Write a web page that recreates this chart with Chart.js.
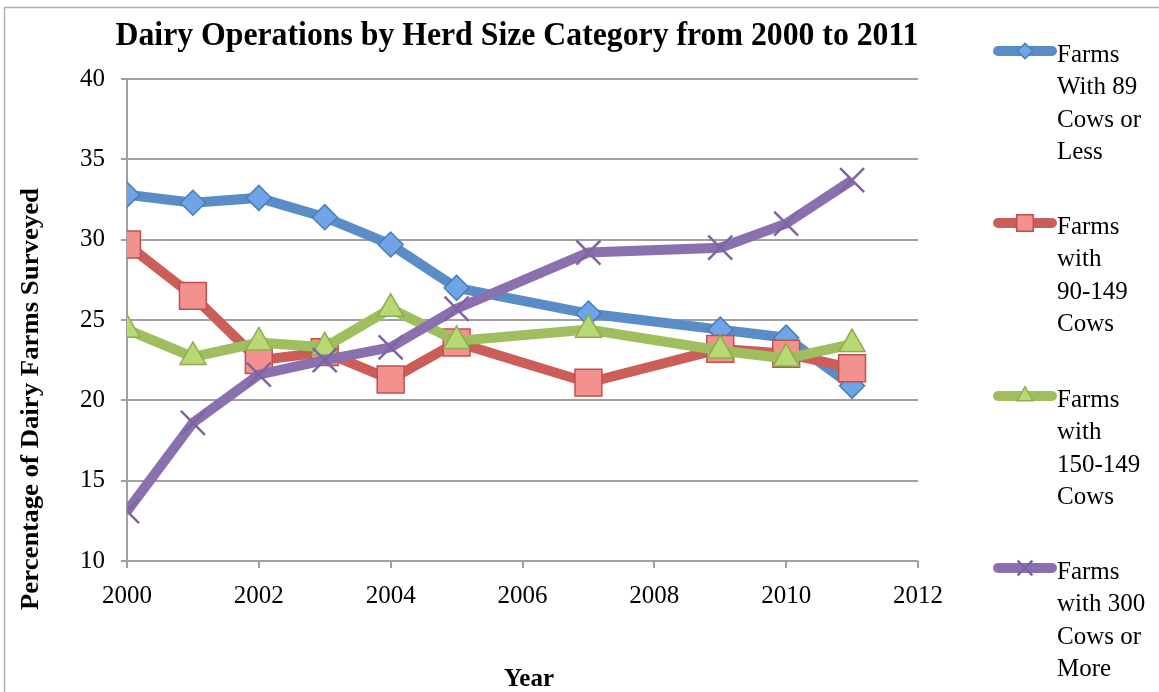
<!DOCTYPE html>
<html>
<head>
<meta charset="utf-8">
<script src="https://cdn.jsdelivr.net/npm/chart.js@4.4.0/dist/chart.umd.min.js"></script>
<style>
	html, body { margin: 0; padding: 0; background: #fff; }
	#chart { display: block; }
</style>
</head>
<body>
<canvas id="chart" width="1159" height="692"></canvas>
<script>
const years = [2000, 2001, 2002, 2003, 2004, 2005, 2007, 2009, 2010, 2011];
const upTo89 = [32.8, 32.3, 32.6, 31.4, 29.7, 27.0, 25.4, 24.4, 23.9, 20.9];
const from90to149 = [29.7, 26.5, 22.5, 23.0, 21.3, 23.6, 21.1, 23.2, 22.9, 22.0];
const from150to149 = [24.4, 22.7, 23.6, 23.3, 25.7, 23.7, 24.4, 23.1, 22.6, 23.5];
const over300 = [13.1, 18.6, 21.6, 22.5, 23.3, 25.7, 29.2, 29.5, 31.0, 33.7];

const legendLines = [
	["Farms", "With 89", "Cows or", "Less"],
	["Farms", "with", "90-149", "Cows"],
	["Farms", "with", "150-149", "Cows"],
	["Farms", "with 300", "Cows or", "More"],
];

const chartTitle = "Dairy Operations by Herd Size Category from 2000 to 2011";
const xTitle = "Year";
const yTitle = "Percentage of Dairy Farms Surveyed";
const xRange = { min: 2000, max: 2012, step: 2 };
const yRange = { min: 10, max: 40, step: 5 };

const serif = "'Liberation Serif', 'Times New Roman', serif";

function makeSeries(values, legend, line, style, radius, fill, border, order) {
	return {
		label: legend.join(" "),
		legendLines: legend,
		data: years.map((yr, i) => ({ x: yr, y: values[i] })),
		borderColor: line,
		borderWidth: 10,
		pointStyle: style,
		pointRadius: radius,
		pointHoverRadius: radius,
		pointBackgroundColor: fill,
		pointBorderColor: border,
		pointBorderWidth: style === "crossRot" ? 2.5 : 1.5,
		tension: 0,
		order: order,
	};
}

function drawMarkerPath(c, style, r, x, y) {
	if (style === "rectRot") {
		c.moveTo(x - r, y); c.lineTo(x, y - r); c.lineTo(x + r, y); c.lineTo(x, y + r); c.closePath();
	} else if (style === "rect") {
		const s = r * Math.SQRT1_2;
		c.rect(x - s, y - s, 2 * s, 2 * s);
	} else if (style === "triangle") {
		c.moveTo(x, y - r);
		c.lineTo(x + r * Math.sin(Math.PI / 3), y + r / 2);
		c.lineTo(x - r * Math.sin(Math.PI / 3), y + r / 2);
		c.closePath();
	} else {
		const s = r * Math.SQRT1_2;
		c.moveTo(x - s, y - s); c.lineTo(x + s, y + s);
		c.moveTo(x - s, y + s); c.lineTo(x + s, y - s);
	}
}

const decor = {
	id: "decor",
	beforeDraw(chart) {
		const c = chart.ctx;
		c.save();
		c.strokeStyle = "#b0b0b0";
		c.lineWidth = 1.5;
		c.strokeRect(4.5, 7.5, 1300, 800);
		c.restore();
	},
	afterDraw(chart) {
		const c = chart.ctx;
		c.save();
		c.fillStyle = "#000";
		c.textBaseline = "middle";
		c.textAlign = "center";

		// title, squeezed like the original
		c.font = "bold 34px " + serif;
		const w = c.measureText(chartTitle).width;
		c.save();
		c.translate(517, 36);
		c.scale(803 / w, 1);
		c.fillText(chartTitle, 0, 0);
		c.restore();

		// axis titles
		c.font = "bold 25px " + serif;
		c.fillText(xTitle, 529, 680);

		c.save();
		c.translate(31, 399);
		c.rotate(-Math.PI / 2);
		c.font = "bold 26px " + serif;
		const wy = c.measureText(yTitle).width;
		c.scale(422 / wy, 1);
		c.fillText(yTitle, 0, 0);
		c.restore();

		// legend on the right
		const tops = [55, 227, 400, 572];
		c.textAlign = "left";
		c.font = "25px " + serif;
		chart.data.datasets.forEach((ds, i) => {
			const ly = tops[i] - 4;
			c.save();
			c.strokeStyle = ds.borderColor;
			c.lineWidth = 10;
			c.lineCap = "round";
			c.beginPath();
			c.moveTo(998, ly);
			c.lineTo(1052, ly);
			c.stroke();
			c.fillStyle = ds.pointBackgroundColor;
			c.strokeStyle = ds.pointBorderColor;
			c.lineWidth = ds.pointBorderWidth;
			c.lineCap = "butt";
			c.beginPath();
			drawMarkerPath(c, ds.pointStyle, ds.pointRadius * 0.62, 1025, ly);
			if (ds.pointStyle !== "crossRot") c.fill();
			c.stroke();
			c.restore();
			ds.legendLines.forEach((t, k) => c.fillText(t, 1057, tops[i] + k * 32.5));
		});
		c.restore();
	},
};

new Chart(document.getElementById("chart"), {
	type: "line",
	data: {
		datasets: [
			makeSeries(upTo89, legendLines[0], "#5a8dc8", "rectRot", 12.5, "#6fa5e6", "#4a7ebb", 4),
			makeSeries(from90to149, legendLines[1], "#cc5e5a", "rect", 19, "#f2918d", "#c0504d", 3),
			makeSeries(from150to149, legendLines[2], "#9fbe5e", "triangle", 15, "#b8d873", "#8fac4f", 2),
			makeSeries(over300, legendLines[3], "#8a70ae", "crossRot", 17, "#8a70ae", "#8064a2", 1),
		],
	},
	options: {
		responsive: false,
		animation: false,
		events: [],
		layout: { padding: { top: 79, right: 241, left: 0, bottom: 0 } },
		plugins: {
			legend: { display: false },
			title: { display: false },
			tooltip: { enabled: false },
		},
		scales: {
			x: {
				type: "linear",
				min: xRange.min,
				max: xRange.max,
				ticks: {
					stepSize: xRange.step,
					color: "#000",
					font: { family: serif, size: 25 },
					padding: 13,
					callback: (v) => String(v),
				},
				grid: { display: true, drawOnChartArea: false, drawTicks: true, tickLength: 7, color: "#a0a0a0", lineWidth: 2 },
				border: { display: false },
				afterFit: (s) => { s.height = 131; },
			},
			y: {
				min: yRange.min,
				max: yRange.max,
				ticks: {
					stepSize: yRange.step,
					color: "#000",
					font: { family: serif, size: 25 },
					padding: 16,
				},
				grid: { color: "#a0a0a0", lineWidth: 2, tickLength: 6, tickColor: "#a0a0a0" },
				border: { display: true, color: "#a0a0a0", width: 2 },
				afterFit: (s) => { s.width = 127; },
			},
		},
	},
	plugins: [decor],
});
</script>
</body>
</html>
